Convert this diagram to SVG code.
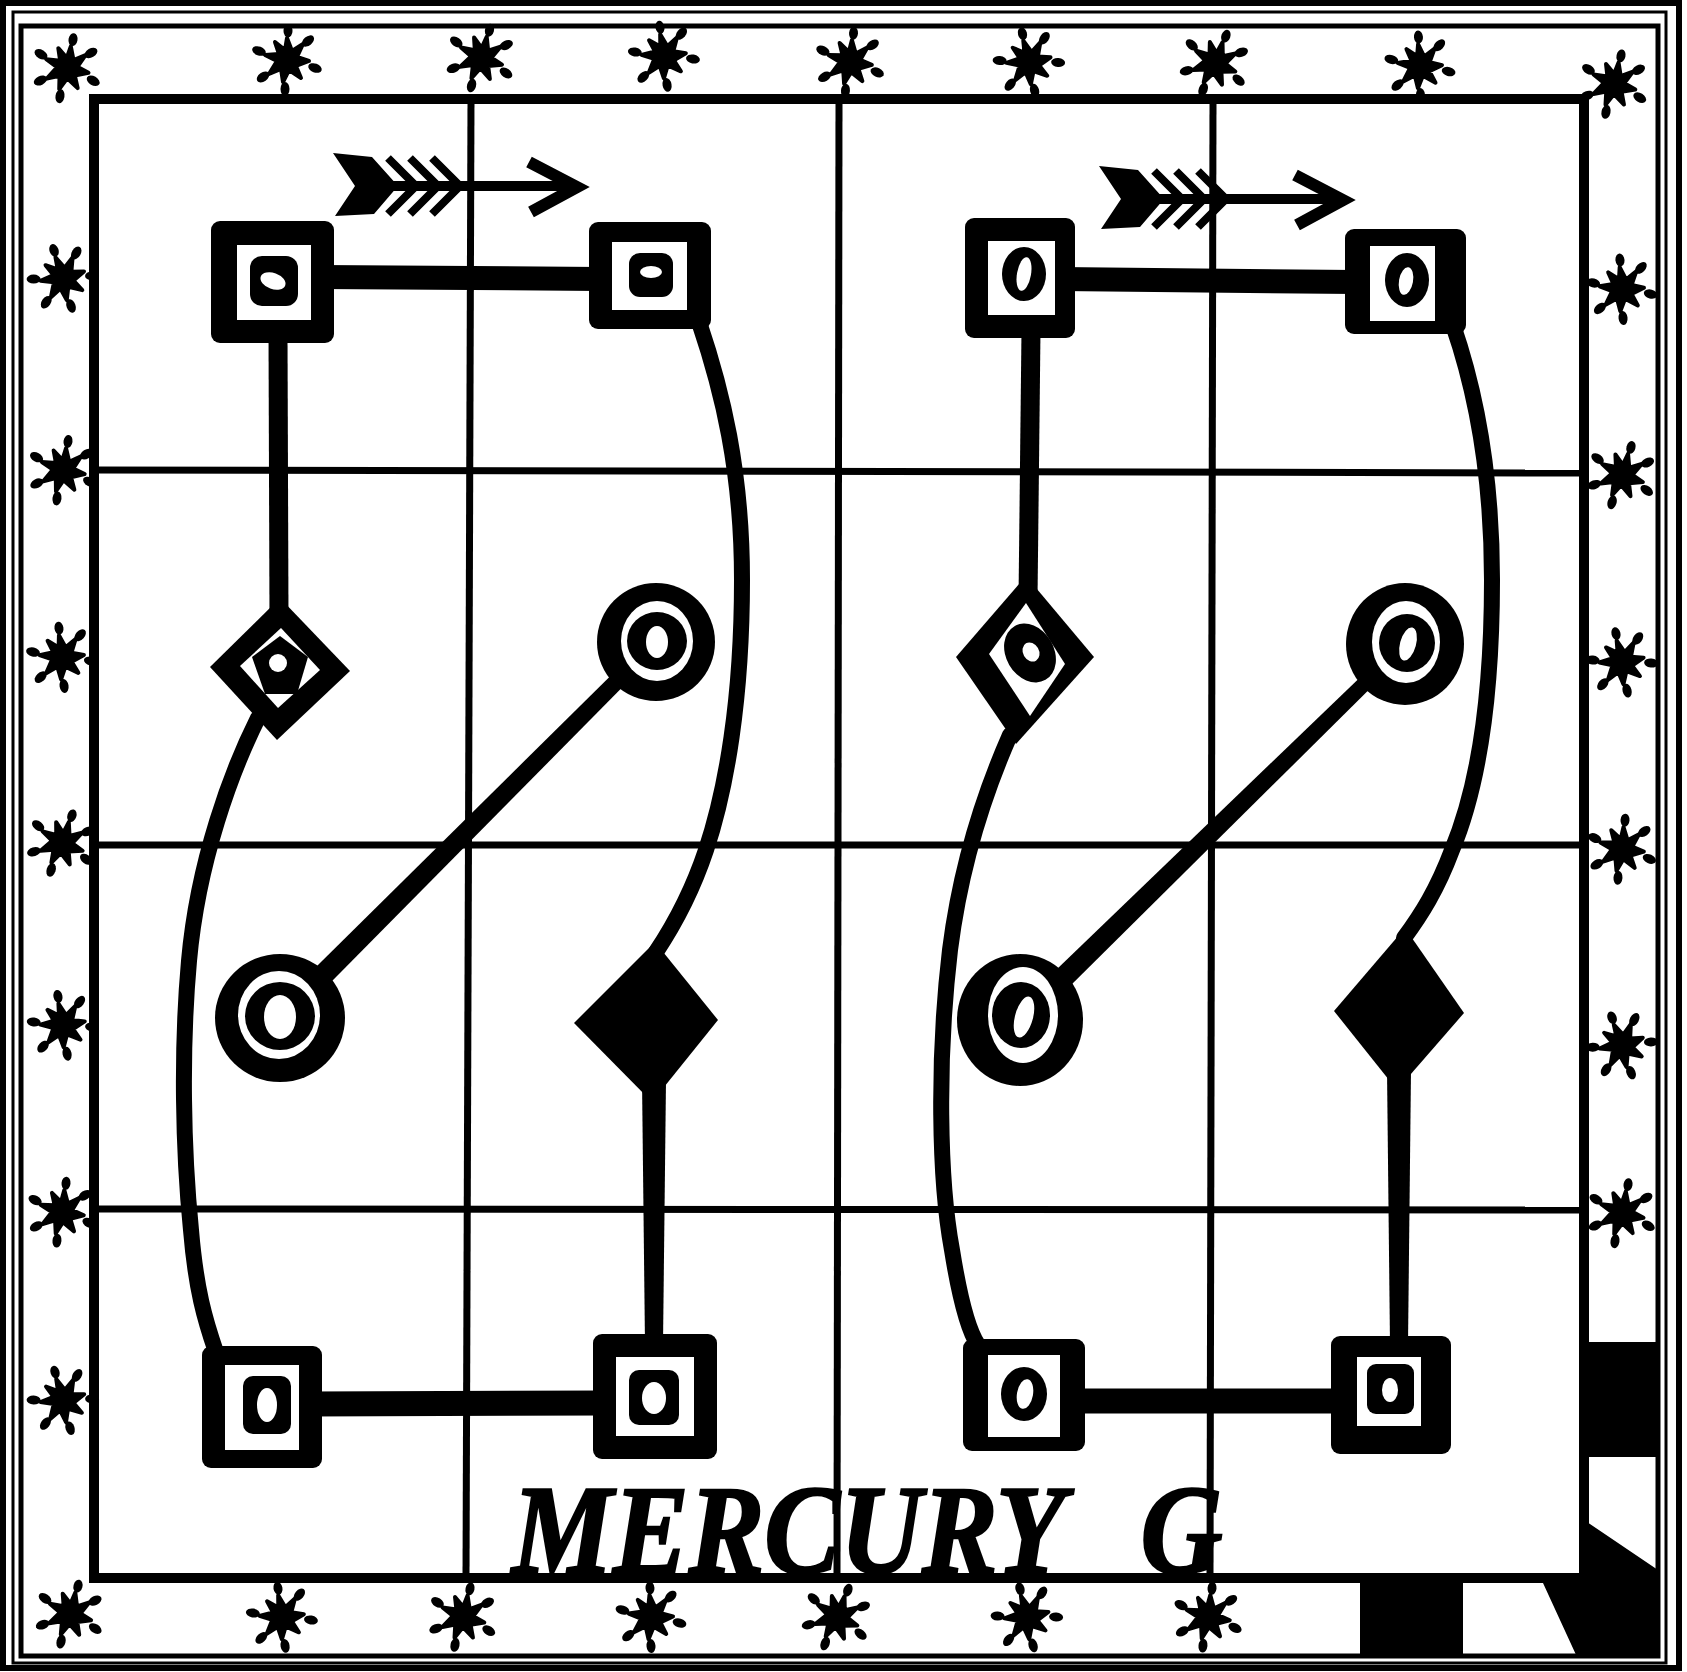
<svg xmlns="http://www.w3.org/2000/svg" xmlns:xlink="http://www.w3.org/1999/xlink" width="1687" height="1672" viewBox="0 0 1687 1672">
<style>
.k{fill:#000}
.w{fill:#fff}
.ln{fill:none;stroke:#000}
.grid{fill:none;stroke:#000;stroke-width:7}
.conn{fill:none;stroke:#000;stroke-linecap:butt}
.curve{fill:none;stroke:#000;stroke-width:16;stroke-linecap:round}
.sb{fill:#000;stroke:#000;stroke-width:4;stroke-linejoin:round}
.title{font-family:"Liberation Serif","Times New Roman",serif;font-weight:bold;font-style:italic;font-size:128px;fill:#000;stroke:#000;stroke-width:2.5}
</style>
<defs>
<g id="star">
<polygon class="sb" points="0,-22 5,-9 16,-16 10,-3 22,1 9,6 14,18 2,10 -4,22 -6,9 -18,14 -10,1 -22,-5 -8,-6 -12,-18 -2,-10"/>
<circle class="k" cx="0" cy="0" r="12"/>
<ellipse class="k" cx="1" cy="-29" rx="4.5" ry="6.5"/>
<ellipse class="k" cx="21" cy="-19" rx="7" ry="4.5" transform="rotate(-40 21 -19)"/>
<ellipse class="k" cx="28" cy="8" rx="7" ry="4.5" transform="rotate(20 28 8)"/>
<ellipse class="k" cx="-2" cy="29" rx="4.5" ry="7"/>
<ellipse class="k" cx="-24" cy="17" rx="7" ry="4.5" transform="rotate(-35 -24 17)"/>
<ellipse class="k" cx="-28" cy="-9" rx="7" ry="4.5" transform="rotate(20 -28 -9)"/>
</g>
<g id="arrow">
<polygon class="k" points="333,153 372,157 398,186 374,214 335,216 355,186"/>
<polyline class="ln" stroke-width="8" points="388,158 416,186 388,214"/>
<polyline class="ln" stroke-width="8" points="410,158 438,186 410,214"/>
<polyline class="ln" stroke-width="8" points="432,158 460,186 432,214"/>
<line class="ln" stroke-width="10" x1="390" y1="186" x2="574" y2="186"/>
<polyline class="ln" stroke-width="12" points="529,162 577,187 531,212"/>
</g>
</defs>

<g id="border">
<rect x="3" y="3" width="1676" height="1665" class="ln" stroke-width="6"/>
<rect x="13" y="12" width="1653" height="1651" class="ln" stroke-width="3"/>
<rect x="21" y="26" width="1637" height="1630" class="ln" stroke-width="5"/>
<rect x="1587" y="1342" width="71" height="115" class="k"/>
<polygon class="k" points="1587,1522 1658,1570 1658,1657 1577,1657 1543,1583 1587,1583"/>
<rect x="1360" y="1580" width="103" height="77" class="k"/>
</g>

<g id="stars">
<use xlink:href="#star" href="#star" transform="translate(67,68) rotate(10)"/>
<use xlink:href="#star" href="#star" transform="translate(287,60)"/>
<use xlink:href="#star" href="#star" transform="translate(481,58) rotate(15)"/>
<use xlink:href="#star" href="#star" transform="translate(664,56) rotate(-10)"/>
<use xlink:href="#star" href="#star" transform="translate(850,62) rotate(5)"/>
<use xlink:href="#star" href="#star" transform="translate(1029,62) rotate(-15)"/>
<use xlink:href="#star" href="#star" transform="translate(1215,63) rotate(20)"/>
<use xlink:href="#star" href="#star" transform="translate(1420,66) rotate(-5)"/>
<use xlink:href="#star" href="#star" transform="translate(1614,84) rotate(12)"/>
<use xlink:href="#star" href="#star" transform="translate(63,278) rotate(-20)"/>
<use xlink:href="#star" href="#star" transform="translate(63,470) rotate(8)"/>
<use xlink:href="#star" href="#star" transform="translate(62,657) rotate(-8)"/>
<use xlink:href="#star" href="#star" transform="translate(62,843) rotate(18)"/>
<use xlink:href="#star" href="#star" transform="translate(63,1025) rotate(-12)"/>
<use xlink:href="#star" href="#star" transform="translate(62,1212) rotate(6)"/>
<use xlink:href="#star" href="#star" transform="translate(63,1400) rotate(-18)"/>
<use xlink:href="#star" href="#star" transform="translate(70,1614) rotate(14)"/>
<use xlink:href="#star" href="#star" transform="translate(1622,289) rotate(-6)"/>
<use xlink:href="#star" href="#star" transform="translate(1622,475) rotate(16)"/>
<use xlink:href="#star" href="#star" transform="translate(1622,662) rotate(-14)"/>
<use xlink:href="#star" href="#star" transform="translate(1622,849) rotate(4)"/>
<use xlink:href="#star" href="#star" transform="translate(1622,1045) rotate(-22)"/>
<use xlink:href="#star" href="#star" transform="translate(1622,1213) rotate(10)"/>
<use xlink:href="#star" href="#star" transform="translate(282,1617) rotate(-10)"/>
<use xlink:href="#star" href="#star" transform="translate(463,1617) rotate(12)"/>
<use xlink:href="#star" href="#star" transform="translate(651,1617) rotate(-4)"/>
<use xlink:href="#star" href="#star" transform="translate(837,1617) rotate(20)"/>
<use xlink:href="#star" href="#star" transform="translate(1027,1617) rotate(-16)"/>
<use xlink:href="#star" href="#star" transform="translate(1208,1617) rotate(6)"/>
</g>

<g id="grid">
<line class="grid" x1="471" y1="99" x2="466" y2="1578"/>
<line class="grid" x1="839" y1="99" x2="837" y2="1578"/>
<line class="grid" x1="1213" y1="99" x2="1210" y2="1578"/>
<line class="grid" x1="94" y1="470" x2="1584" y2="473"/>
<line class="grid" x1="94" y1="845" x2="1584" y2="845"/>
<line class="grid" x1="94" y1="1209" x2="1584" y2="1210"/>
<rect x="94" y="99" width="1490" height="1479" class="ln" stroke-width="10"/>
</g>

<g id="arrows">
<use xlink:href="#arrow" href="#arrow"/>
<use xlink:href="#arrow" href="#arrow" transform="translate(766,13)"/>
</g>

<g id="connectors">
<line class="conn" stroke-width="24" x1="320" y1="277" x2="600" y2="279"/>
<line class="conn" stroke-width="24" x1="1060" y1="279" x2="1355" y2="282"/>
<line class="conn" stroke-width="25" x1="310" y1="1404" x2="605" y2="1403"/>
<line class="conn" stroke-width="25" x1="1070" y1="1401" x2="1340" y2="1401"/>
<line class="conn" stroke-width="19" x1="278" y1="335" x2="279" y2="620"/>
<line class="conn" stroke-width="19" x1="1031" y1="330" x2="1028" y2="600"/>
<polygon class="k" points="642,1080 666,1080 663,1345 645,1345"/>
<polygon class="k" points="1387,1070 1411,1070 1408,1345 1390,1345"/>
<polygon class="k" points="650.4,636.4 661.6,647.6 287.8,1025.8 272.2,1010.2"/>
<polygon class="k" points="1400,638.9 1410,649.1 1027.7,1028 1012.3,1012.0"/>
<path class="curve" d="M258,718 C232,770 198,860 189,961 C181,1050 183,1150 191,1230 C196,1290 205,1320 216,1352"/>
<path class="curve" d="M699,322 C722,390 742,470 742,580 C742,700 726,790 706,850 C691,895 674,925 656,952"/>
<path class="curve" d="M1010,735 C988,785 962,855 950,950 C937,1060 939,1180 952,1250 C960,1300 968,1330 978,1345"/>
<path class="curve" d="M1453,325 C1472,380 1492,460 1492,580 C1492,700 1477,790 1452,850 C1437,890 1421,915 1404,938"/>
</g>

<g id="nodeA">
<rect x="211" y="221" width="123" height="122" rx="9" class="k"/>
<rect x="237" y="245" width="74" height="75" class="w"/>
<rect x="250" y="256" width="48" height="50" rx="12" class="k"/>
<ellipse cx="273" cy="281" rx="13" ry="8" class="w" transform="rotate(20 273 281)"/>
</g>
<g id="nodeB">
<rect x="589" y="222" width="122" height="107" rx="9" class="k"/>
<rect x="612" y="242" width="75" height="68" class="w"/>
<rect x="629" y="253" width="44" height="44" rx="11" class="k"/>
<ellipse cx="651" cy="272" rx="11" ry="6" class="w"/>
</g>
<g id="nodeC">
<polygon class="k" points="280,598 350,671 277,740 210,667"/>
<polygon class="w" points="281,628 320,670 278,708 240,666"/>
<polygon class="k" points="280,636 308,657 297,694 265,694 252,657"/>
<circle cx="278" cy="663" r="9" class="w"/>
</g>
<g id="nodeE">
<circle cx="656" cy="642" r="59" class="k"/>
<ellipse cx="657" cy="641" rx="36" ry="40" class="w"/>
<ellipse cx="657" cy="641" rx="30" ry="29" class="k"/>
<ellipse cx="657" cy="642" rx="11" ry="16" class="w"/>
</g>
<g id="nodeF">
<ellipse cx="280" cy="1018" rx="65" ry="64" class="k"/>
<ellipse cx="279" cy="1015" rx="41" ry="44" class="w"/>
<ellipse cx="280" cy="1016" rx="35" ry="34" class="k"/>
<ellipse cx="280" cy="1017" rx="16" ry="22" class="w"/>
</g>
<g id="nodeG">
<polygon class="k" points="655,942 718,1020 652,1102 574,1023"/>
</g>
<g id="nodeD">
<rect x="202" y="1346" width="120" height="122" rx="9" class="k"/>
<rect x="225" y="1365" width="74" height="85" class="w"/>
<rect x="243" y="1376" width="48" height="58" rx="10" class="k"/>
<ellipse cx="267" cy="1405" rx="10" ry="17" class="w"/>
</g>
<g id="nodeH">
<rect x="593" y="1334" width="124" height="125" rx="9" class="k"/>
<rect x="616" y="1357" width="78" height="79" class="w"/>
<rect x="629" y="1370" width="50" height="55" rx="10" class="k"/>
<ellipse cx="654" cy="1398" rx="12" ry="16" class="w"/>
</g>

<g id="nodeA2">
<rect x="965" y="218" width="110" height="120" rx="9" class="k"/>
<rect x="988" y="241" width="67" height="74" class="w"/>
<ellipse cx="1024" cy="274" rx="22" ry="27" class="k"/>
<ellipse cx="1024" cy="274" rx="7" ry="17" class="w" transform="rotate(10 1024 274)"/>
</g>
<g id="nodeB2">
<rect x="1345" y="229" width="121" height="105" rx="9" class="k"/>
<rect x="1370" y="246" width="65" height="75" class="w"/>
<ellipse cx="1407" cy="280" rx="22" ry="27" class="k"/>
<ellipse cx="1406" cy="281" rx="7" ry="14" class="w" transform="rotate(10 1406 281)"/>
</g>
<g id="nodeC2">
<polygon class="k" points="1026,576 1094,657 1016,744 956,657"/>
<polygon class="w" points="1026,603 1065,664 1030,716 989,654"/>
<ellipse cx="1030" cy="653" rx="24" ry="31" class="k" transform="rotate(-30 1030 653)"/>
<ellipse cx="1031" cy="652" rx="8" ry="10" class="w" transform="rotate(-30 1031 652)"/>
</g>
<g id="nodeE2">
<ellipse cx="1405" cy="644" rx="59" ry="61" class="k"/>
<ellipse cx="1406" cy="642" rx="34" ry="41" class="w"/>
<ellipse cx="1407" cy="643" rx="28" ry="29" class="k"/>
<ellipse cx="1408" cy="644" rx="8" ry="17" class="w" transform="rotate(15 1408 644)"/>
</g>
<g id="nodeF2">
<ellipse cx="1020" cy="1020" rx="63" ry="66" class="k"/>
<ellipse cx="1023" cy="1015" rx="35" ry="48" class="w"/>
<ellipse cx="1021" cy="1015" rx="29" ry="33" class="k"/>
<ellipse cx="1024" cy="1017" rx="9" ry="21" class="w" transform="rotate(15 1024 1017)"/>
</g>
<g id="nodeG2">
<polygon class="k" points="1405,928 1464,1013 1397,1090 1334,1011"/>
</g>
<g id="nodeD2">
<rect x="963" y="1339" width="122" height="112" rx="9" class="k"/>
<rect x="988" y="1355" width="72" height="82" class="w"/>
<ellipse cx="1024" cy="1394" rx="23" ry="27" class="k"/>
<ellipse cx="1025" cy="1394" rx="8" ry="15" class="w" transform="rotate(10 1025 1394)"/>
</g>
<g id="nodeH2">
<rect x="1331" y="1336" width="120" height="118" rx="9" class="k"/>
<rect x="1357" y="1357" width="64" height="69" class="w"/>
<rect x="1367" y="1364" width="47" height="50" rx="9" class="k"/>
<ellipse cx="1390" cy="1390" rx="8" ry="12" class="w"/>
</g>

<g id="title">
<text class="title" transform="translate(512,1573) scale(0.887,1)">MERCURY<tspan dx="53"> G</tspan></text>
</g>
</svg>
